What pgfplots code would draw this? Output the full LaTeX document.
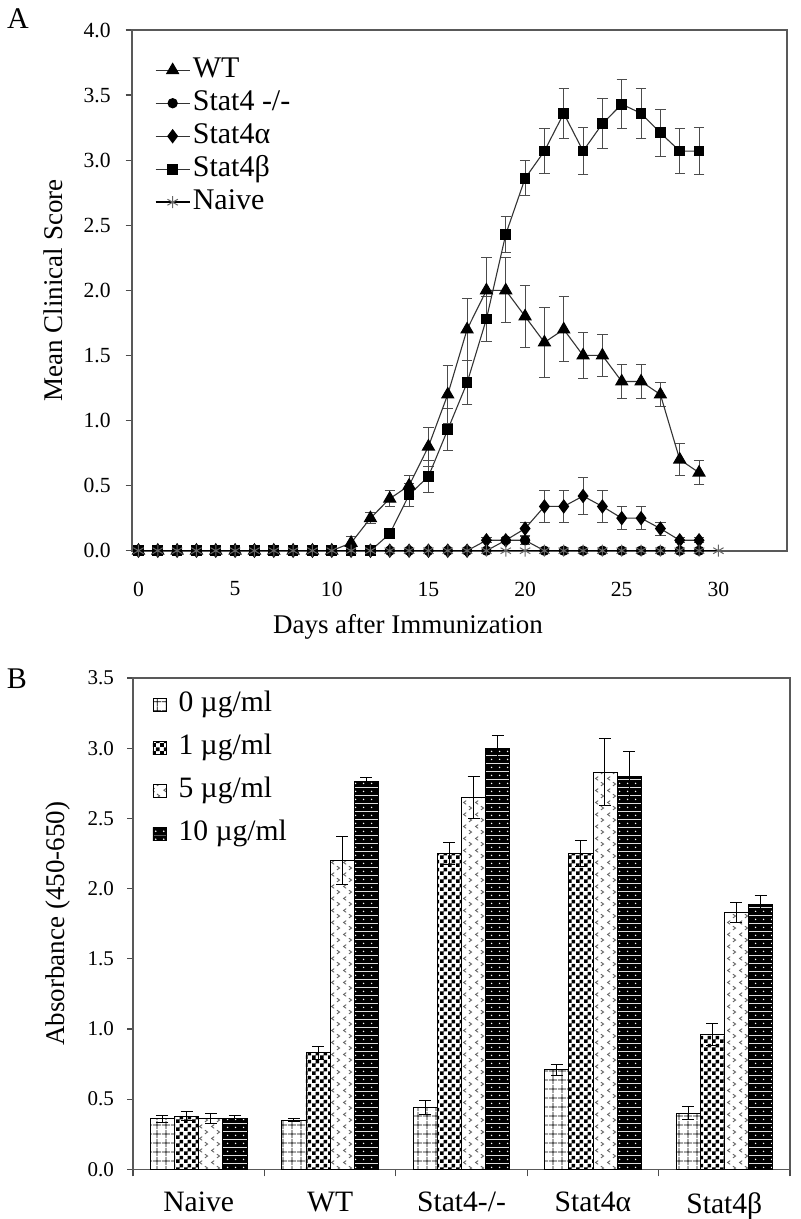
\documentclass[border=0pt]{standalone}
\usepackage{fontspec}
\setmainfont{Liberation Serif}
\usepackage{pgfplots}
\pgfplotsset{compat=1.18}
\usetikzlibrary{patterns,patterns.meta}

\tikzdeclarepattern{name=mygrid, bounding box={(0,0) and (4.5pt,4.5pt)}, tile size={(4.5pt,4.5pt)},
  code={\draw[line width=0.45pt] (0,2.25pt) -- (4.5pt,2.25pt) (2.25pt,0) -- (2.25pt,4.5pt);}}
\tikzdeclarepattern{name=mychecker, bounding box={(0,0) and (4pt,4pt)}, tile size={(4pt,4pt)},
  code={\fill (0,0) rectangle (2pt,2pt) (2pt,2pt) rectangle (4pt,4pt);}}
\tikzdeclarepattern{name=mychevron, type=colored, bounding box={(0,0) and (6pt,6pt)}, tile size={(6pt,6pt)},
  code={\draw[black!60, line width=0.5pt] (0.5pt,2.6pt) -- (1.9pt,1.6pt) -- (0.5pt,0.6pt);
        \draw[black!60, line width=0.5pt] (5.5pt,5.6pt) -- (4.1pt,4.6pt) -- (5.5pt,3.6pt);}}
\tikzdeclarepattern{name=mydots, type=colored, bounding box={(0,0) and (4pt,4pt)}, tile size={(4pt,4pt)},
  code={\fill[black] (0,0) rectangle (4pt,4pt); \fill[white] (2pt,2pt) circle (0.45pt);}}

\pgfplotsset{
  errA/.style={forget plot, draw=none, mark=none,
    /pgfplots/error bars/y dir=both, /pgfplots/error bars/y explicit,
    /pgfplots/error bars/error bar style={draw=black!70, line width=0.5pt, solid},
    /pgfplots/error bars/error mark options={draw=black!70, rotate=90, mark size=2.6pt, line width=0.5pt}},
  lineA/.style={draw=black!80, line width=0.55pt},
  barB/.style={ybar, bar width=0.184, bar shift=0pt, draw=black, line width=0.4pt,
    /pgfplots/error bars/y dir=both, /pgfplots/error bars/y explicit,
    /pgfplots/error bars/error bar style={draw=black, line width=0.5pt},
    /pgfplots/error bars/error mark options={draw=black, rotate=90, mark size=3pt, line width=0.5pt}},
}

\begin{document}
\begin{tikzpicture}
\path[use as bounding box] (0,0) rectangle (400pt,-609.5pt);

\node[font=\fontsize{15}{18}\selectfont] at (9pt,-9.5pt) {A};
\node[font=\fontsize{15}{18}\selectfont] at (8.5pt,-339.5pt) {B};

% ---------------- Panel A ----------------
\begin{axis}[
  at={(65.85pt,-275.35pt)}, anchor=south west,
  scale only axis, width=327.65pt, height=260.35pt,
  xmin=-0.35, xmax=33.55, ymin=0, ymax=4,
  xtick={0,5,...,30}, ytick={0,0.5,...,4},
  xtick pos=bottom, ytick pos=left, tick align=outside,
  major tick length=3pt,
  x tick style={draw=none},
  y tick style={black!70, line width=0.6pt},
  axis line style={black!65, line width=0.8pt},
  /pgf/number format/assume math mode=true,
  yticklabel style={/pgf/number format/fixed, /pgf/number format/fixed zerofill, /pgf/number format/precision=1},
  ticklabel style={font=\fontsize{10.8}{12}\selectfont},
  xticklabel style={yshift=-9pt},
  yticklabel style={xshift=-4pt},
  xlabel={Days after Immunization},
  ylabel={Mean Clinical Score},
  label style={font=\fontsize{13.5}{16}\selectfont},
  xlabel style={at={(axis description cs:0.4216,-0.1465)}, anchor=center},
  ylabel style={at={(axis description cs:-0.12,0.5)}, anchor=center},
  legend cell align=left,
  legend style={draw=none, fill=none, at={(0.025,0.96)}, anchor=north west,
    font=\fontsize{15}{17}\selectfont, row sep=1.5pt,
    nodes={inner sep=1pt, text height=10pt, text depth=3pt}},
]
% error bars (drawn first)
\addplot[errA] coordinates {
 (11,0.06) +- (0,0.05) (12,0.25) +- (0,0.04) (13,0.40) +- (0,0.06) (14,0.50) +- (0,0.08)
 (15,0.80) +- (0,0.15) (16,1.20) +- (0,0.22) (17,1.70) +- (0,0.24) (18,2.00) +- (0,0.25)
 (19,2.00) +- (0,0.25) (20,1.80) +- (0,0.24) (21,1.60) +- (0,0.27) (22,1.70) +- (0,0.25)
 (23,1.50) +- (0,0.18) (24,1.50) +- (0,0.16) (25,1.30) +- (0,0.13) (26,1.30) +- (0,0.13)
 (27,1.20) +- (0,0.09) (28,0.70) +- (0,0.12) (29,0.60) +- (0,0.09)};
\addplot[errA] coordinates {
 (13,0.13) +- (0,0.03) (14,0.43) +- (0,0.09) (15,0.57) +- (0,0.12) (16,0.93) +- (0,0.16)
 (17,1.29) +- (0,0.17) (18,1.78) +- (0,0.17) (19,2.43) +- (0,0.14) (20,2.86) +- (0,0.135)
 (21,3.07) +- (0,0.17) (22,3.36) +- (0,0.19) (23,3.07) +- (0,0.18) (24,3.28) +- (0,0.19)
 (25,3.43) +- (0,0.19) (26,3.36) +- (0,0.19) (27,3.21) +- (0,0.18) (28,3.07) +- (0,0.17)
 (29,3.07) +- (0,0.18)};
\addplot[errA] coordinates {
 (18,0.08) +- (0,0.02) (19,0.08) +- (0,0.02) (20,0.17) +- (0,0.05) (21,0.34) +- (0,0.12)
 (22,0.34) +- (0,0.12) (23,0.42) +- (0,0.14) (24,0.34) +- (0,0.12) (25,0.25) +- (0,0.09)
 (26,0.25) +- (0,0.09) (27,0.17) +- (0,0.05) (28,0.08) +- (0,0.02) (29,0.08) +- (0,0.02)};
\addplot[errA] coordinates {(20,0.08) +- (0,0.03)};

% WT
\addplot[lineA, mark=triangle*, mark size=3.4pt, mark options={solid, fill=black, draw=black}] coordinates {
 (0,0) (1,0) (2,0) (3,0) (4,0) (5,0) (6,0) (7,0) (8,0) (9,0) (10,0)
 (11,0.06) (12,0.25) (13,0.40) (14,0.50) (15,0.80) (16,1.20) (17,1.70) (18,2.00) (19,2.00)
 (20,1.80) (21,1.60) (22,1.70) (23,1.50) (24,1.50) (25,1.30) (26,1.30) (27,1.20) (28,0.70) (29,0.60)};
\addlegendentry{WT}
% Stat4 -/-
\addplot[lineA, mark=*, mark size=2.3pt, mark options={solid, fill=black, draw=black}] coordinates {
 (0,0) (1,0) (2,0) (3,0) (4,0) (5,0) (6,0) (7,0) (8,0) (9,0) (10,0)
 (11,0) (12,0) (13,0) (14,0) (15,0) (16,0) (17,0) (18,0) (19,0.08)
 (20,0.08) (21,0) (22,0) (23,0) (24,0) (25,0) (26,0) (27,0) (28,0) (29,0)};
\addlegendentry{Stat4 -/-}
% Stat4 alpha
\addplot[lineA, mark=diamond*, mark size=3.2pt, mark options={solid, fill=black, draw=black}] coordinates {
 (0,0) (1,0) (2,0) (3,0) (4,0) (5,0) (6,0) (7,0) (8,0) (9,0) (10,0)
 (11,0) (12,0) (13,0) (14,0) (15,0) (16,0) (17,0) (18,0.08) (19,0.08)
 (20,0.17) (21,0.34) (22,0.34) (23,0.42) (24,0.34) (25,0.25) (26,0.25) (27,0.17) (28,0.08) (29,0.08)};
\addlegendentry{Stat4α}
% Stat4 beta
\addplot[lineA, mark=square*, mark size=2.4pt, mark options={solid, fill=black, draw=black}] coordinates {
 (0,0) (1,0) (2,0) (3,0) (4,0) (5,0) (6,0) (7,0) (8,0) (9,0) (10,0)
 (11,0) (12,0) (13,0.13) (14,0.43) (15,0.57) (16,0.93) (17,1.29) (18,1.78) (19,2.43)
 (20,2.86) (21,3.07) (22,3.36) (23,3.07) (24,3.28) (25,3.43) (26,3.36) (27,3.21) (28,3.07) (29,3.07)};
\addlegendentry{Stat4β}
% Naive
\addplot[draw=black, line width=1.1pt, mark=asterisk, mark size=3pt, mark options={solid, draw=black!60, line width=0.5pt}] coordinates {
 (0,0) (1,0) (2,0) (3,0) (4,0) (5,0) (6,0) (7,0) (8,0) (9,0) (10,0)
 (11,0) (12,0) (13,0) (14,0) (15,0) (16,0) (17,0) (18,0) (19,0)
 (20,0) (21,0) (22,0) (23,0) (24,0) (25,0) (26,0) (27,0) (28,0) (29,0) (30,0)};
\addlegendentry{Naive}
\end{axis}

% ---------------- Panel B ----------------
\begin{axis}[
  at={(66.5pt,-584.65pt)}, anchor=south west,
  scale only axis, width=328.5pt, height=245.65pt,
  xmin=-0.5, xmax=4.5, ymin=0, ymax=3.5,
  xtick={0,1,2,3,4},
  xticklabels={Naive, WT, Stat4-/-, Stat4α, Stat4β},
  minor xtick={-0.5,0.5,1.5,2.5,3.5,4.5},
  ytick={0,0.5,...,3.5},
  xtick pos=bottom, ytick pos=left, tick align=outside,
  major tick length=3pt, minor tick length=3.5pt,
  major x tick style={draw=none},
  minor x tick style={black!70, line width=0.6pt},
  y tick style={black!70, line width=0.6pt},
  axis line style={black!65, line width=0.8pt},
  /pgf/number format/assume math mode=true,
  yticklabel style={/pgf/number format/fixed, /pgf/number format/fixed zerofill, /pgf/number format/precision=1},
  yticklabel style={font=\fontsize{10.5}{12}\selectfont, xshift=-3pt},
  xticklabel style={font=\fontsize{14.8}{17}\selectfont, yshift=-5pt},
  ylabel={Absorbance (450-650)},
  ylabel style={at={(axis description cs:-0.114,0.5)}, anchor=center, font=\fontsize{13.5}{16}\selectfont},
  legend cell align=left,
  legend style={draw=none, fill=none, at={(0.02,0.985)}, anchor=north west,
    font=\fontsize{14.8}{17}\selectfont, row sep=6.5pt,
    nodes={inner sep=1pt, text height=10pt, text depth=3pt},
    /tikz/every odd column/.append style={column sep=5pt}},
  legend image code/.code={\draw[#1] (0pt,-3.3pt) rectangle (6.6pt,3.3pt);},
]
\addplot[barB, pattern=mygrid] coordinates {
 (-0.276,0.36) +- (0,0.025) (0.724,0.35) +- (0,0.01) (1.724,0.44) +- (0,0.05)
 (2.724,0.71) +- (0,0.04) (3.724,0.40) +- (0,0.045)};
\addlegendentry{0 µg/ml}
\addplot[barB, pattern=mychecker] coordinates {
 (-0.092,0.38) +- (0,0.03) (0.908,0.83) +- (0,0.045) (1.908,2.25) +- (0,0.08)
 (2.908,2.25) +- (0,0.09) (3.908,0.96) +- (0,0.08)};
\addlegendentry{1 µg/ml}
\addplot[barB, pattern=mychevron] coordinates {
 (0.092,0.36) +- (0,0.035) (1.092,2.20) +- (0,0.17) (2.092,2.65) +- (0,0.15)
 (3.092,2.83) +- (0,0.24) (4.092,1.83) +- (0,0.07)};
\addlegendentry{5 µg/ml}
\addplot[barB, pattern=mydots] coordinates {
 (0.276,0.36) +- (0,0.025) (1.276,2.76) +- (0,0.03) (2.276,3.00) +- (0,0.09)
 (3.276,2.80) +- (0,0.18) (4.276,1.89) +- (0,0.06)};
\addlegendentry{10 µg/ml}
\end{axis}
\end{tikzpicture}
\end{document}
